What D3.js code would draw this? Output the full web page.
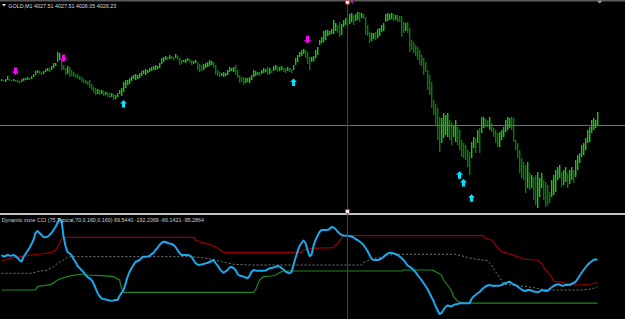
<!DOCTYPE html>
<html>
<head>
<meta charset="utf-8">
<script src="https://cdn.jsdelivr.net/npm/d3@7"></script>
<style>
  html, body { margin: 0; padding: 0; background: #000; }
  svg { display: block; }
</style>
</head>
<body>
<script>
/* GOLD M1 bars + Dynamic zone CCI sub window */

// chart title / indicator label
const symbolLabel = "GOLD,M1";
const ohlcLabel = ["4027.51", "4027.51", "4026.05", "4026.23"];
const cciLabel = "Dynamic zone CCI (75,Typical,70,0.160,0.160)";
const cciLast = ["69.5440", "-192.2369", "-66.1421", "-95.2864"];

// price bars (one per minute), highs and lows
const barHigh = [
  4030.8,4030.7,4030.8,4031.1,4030.8,4030.7,4030.8,4030.7,4030.7,4030.6,
  4030.8,4030.9,4030.9,4031.0,4030.9,4031.1,4031.3,4031.6,4031.7,4031.6,
  4031.5,4031.6,4031.8,4031.9,4031.9,4032.1,4032.4,4032.4,4033.5,4033.4,
  4032.7,4032.2,4031.9,4032.1,4032.0,4031.7,4031.5,4031.3,4031.3,4031.1,
  4031.0,4030.8,4030.7,4030.6,4030.7,4030.3,4030.0,4029.9,4029.8,4029.7,
  4029.7,4029.6,4029.5,4029.5,4029.4,4029.4,4029.3,4029.2,4029.4,4029.7,
  4029.9,4030.5,4030.7,4030.7,4030.9,4031.1,4031.2,4031.3,4031.2,4031.4,
  4031.6,4031.7,4031.8,4031.7,4031.9,4032.0,4032.1,4032.2,4032.1,4032.4,
  4032.9,4033.0,4033.1,4033.0,4033.2,4033.1,4033.0,4033.3,4033.1,4032.9,
  4032.7,4032.7,4032.8,4032.9,4032.8,4032.7,4032.6,4032.7,4032.5,4032.3,
  4032.2,4032.3,4032.4,4032.5,4032.7,4032.6,4032.5,4032.2,4031.7,4031.5,
  4031.4,4031.5,4031.4,4031.7,4032.0,4031.9,4032.0,4032.2,4031.7,4031.2,
  4031.0,4031.0,4030.9,4030.9,4031.0,4031.2,4031.7,4031.6,4031.5,4031.5,
  4031.7,4031.9,4031.8,4032.0,4031.9,4031.7,4032.1,4032.2,4032.1,4032.0,
  4032.1,4031.9,4031.9,4032.0,4031.9,4031.8,4032.2,4032.9,4033.2,4033.5,
  4033.7,4033.8,4033.7,4033.5,4033.0,4033.0,4033.1,4033.7,4034.0,4034.7,
  4035.0,4035.6,4035.7,4035.7,4035.6,4035.8,4036.7,4036.4,4036.2,4036.5,
  4036.3,4036.7,4036.9,4036.8,4037.3,4037.4,4037.2,4037.3,4037.5,4037.5,
  4037.4,4037.3,4037.0,4036.2,4035.5,4035.4,4035.4,4035.5,4035.8,4035.9,
  4036.2,4036.4,4037.3,4037.4,4037.3,4037.4,4037.3,4037.2,4037.2,4037.1,
  4037.1,4036.5,4036.4,4036.5,4035.9,4034.7,4034.5,4034.2,4034.0,4033.7,
  4033.2,4032.9,4032.5,4031.7,4031.2,4030.5,4028.7,4028.3,4027.9,4027.0,
  4026.9,4027.4,4027.2,4027.4,4026.7,4026.5,4026.2,4026.7,4026.0,4025.7,
  4024.7,4024.4,4024.2,4023.7,4023.5,4024.5,4025.0,4024.9,4025.7,4025.9,
  4027.0,4027.0,4026.8,4026.7,4027.0,4026.4,4025.9,4025.7,4025.4,4025.5,
  4025.7,4026.0,4026.7,4027.0,4026.9,4027.0,4026.9,4024.7,4024.4,4023.7,
  4022.9,4022.5,4022.2,4022.5,4021.4,4021.2,4021.0,4021.2,4021.5,4020.9,
  4021.4,4020.7,4020.5,4020.2,4019.5,4020.7,4021.2,4021.7,4022.0,4022.2,
  4021.5,4021.7,4022.0,4021.4,4021.7,4022.0,4021.7,4022.7,4023.2,4023.4,
  4024.2,4024.4,4024.9,4025.7,4026.0,4026.7,4026.9,4026.7,4027.51
];
const barLow = [
  4030.6,4030.6,4030.5,4030.7,4030.6,4030.6,4030.6,4030.5,4030.4,4030.4,
  4030.5,4030.6,4030.7,4030.7,4030.7,4030.8,4031.0,4031.2,4031.4,4031.3,
  4031.2,4031.3,4031.5,4031.6,4031.5,4031.7,4031.9,4032.1,4032.5,4032.7,
  4031.7,4031.7,4031.2,4031.3,4031.0,4031.1,4031.0,4030.9,4030.8,4030.7,
  4030.5,4030.4,4030.3,4030.2,4029.9,4029.7,4029.4,4029.2,4029.3,4029.2,
  4029.3,4029.1,4029.2,4029.0,4028.9,4029.0,4028.7,4028.8,4029.0,4029.3,
  4029.1,4029.5,4029.9,4030.2,4030.3,4030.6,4030.8,4030.7,4030.8,4030.9,
  4031.1,4031.3,4031.2,4031.4,4031.5,4031.6,4031.7,4031.7,4031.8,4031.9,
  4032.3,4032.5,4032.7,4032.7,4032.8,4032.8,4032.7,4032.9,4032.7,4032.2,
  4032.3,4032.5,4032.4,4032.6,4032.4,4032.2,4032.3,4032.4,4031.7,4031.5,
  4031.6,4031.7,4031.9,4032.0,4032.1,4032.2,4031.9,4031.2,4031.1,4031.0,
  4031.1,4031.0,4031.1,4031.2,4031.5,4031.6,4031.5,4031.2,4030.9,4030.4,
  4030.5,4030.2,4030.4,4030.5,4030.4,4030.7,4031.0,4031.1,4031.2,4031.1,
  4031.3,4031.4,4031.5,4031.2,4031.3,4031.4,4031.6,4031.7,4031.5,4031.6,
  4031.7,4031.5,4031.4,4031.6,4031.5,4031.4,4031.7,4032.2,4032.5,4033.0,
  4033.1,4033.3,4032.9,4032.3,4031.7,4032.5,4032.6,4032.9,4033.2,4034.2,
  4034.4,4034.5,4034.7,4035.1,4035.2,4035.3,4035.3,4035.6,4035.4,4035.0,
  4035.2,4036.0,4036.2,4036.1,4036.3,4036.5,4036.2,4036.6,4036.7,4036.5,
  4036.9,4036.8,4035.2,4035.1,4034.4,4034.6,4034.8,4034.7,4034.9,4035.1,
  4035.5,4035.6,4036.5,4036.6,4036.7,4036.8,4036.6,4036.7,4036.5,4036.5,
  4035.0,4035.4,4035.6,4035.4,4033.5,4033.7,4033.4,4033.1,4032.7,4032.2,
  4032.1,4031.2,4031.5,4029.7,4029.2,4027.9,4027.2,4026.2,4024.7,4023.5,
  4024.4,4024.9,4025.2,4025.0,4024.7,4024.2,4025.0,4024.5,4024.2,4023.7,
  4023.0,4022.9,4022.7,4022.0,4021.2,4022.9,4023.9,4023.4,4024.4,4023.4,
  4025.4,4025.9,4026.0,4026.0,4025.7,4025.5,4025.0,4024.4,4024.0,4024.0,
  4024.7,4025.0,4025.5,4025.7,4025.9,4025.7,4024.5,4023.7,4022.9,4021.4,
  4020.9,4020.7,4019.4,4019.9,4019.7,4019.9,4018.7,4018.2,4017.9,4019.0,
  4019.9,4018.7,4018.0,4018.2,4018.4,4019.0,4019.2,4019.5,4020.7,4020.9,
  4020.0,4020.2,4020.5,4019.9,4020.3,4020.7,4020.4,4021.0,4021.7,4022.4,
  4023.0,4023.2,4023.7,4024.4,4024.5,4025.4,4025.7,4025.9,4026.05
];

// signal arrows (bar index, price at arrow centre)
const sellBars = [7, 31, 153];
const sellPrices = [4031.57, 4032.87, 4034.73];
const buyBars = [61, 146, 229, 231, 235];
const buyPrices = [4028.33, 4030.48, 4021.20, 4020.42, 4018.90];

// crosshair
const crossBar = 173;
const crossPrice = 4026.2;

// CCI, one value per bar
const cci = [
  96,86,90,96,93,92,96,90,78,66,
  56,84,102,120,138,162,186,228,240,228,
  216,204,202,206,216,228,246,264,288,312,
  300,210,150,114,105,96,72,54,30,18,
  6,-6,-24,-36,-44,-54,-74,-102,-132,-150,
  -164,-168,-171,-174,-177,-178,-177,-174,-174,-150,
  -132,-114,-78,-36,-6,16,36,54,60,66,
  78,86,86,87,90,102,108,126,138,156,
  168,176,174,168,165,162,156,144,126,108,
  96,96,96,96,93,86,66,48,39,36,
  39,42,46,48,54,60,66,48,33,15,
  0,-10,-3,6,21,24,18,6,-18,-27,
  -30,-34,-39,-44,-30,-6,6,3,2,2,
  2,2,3,9,16,18,21,24,30,27,
  18,9,-4,-9,-14,-6,36,78,116,150,
  168,183,168,126,90,96,150,186,210,234,
  246,246,246,246,252,264,261,252,237,225,
  216,213,212,212,210,207,201,192,186,177,
  168,156,138,120,96,75,66,66,66,69,
  75,84,96,105,108,110,105,102,96,87,
  78,66,51,33,26,18,6,-6,-24,-39,
  -54,-72,-90,-108,-132,-156,-180,-210,-234,-258,
  -252,-234,-216,-207,-210,-213,-204,-200,-198,-194,
  -194,-194,-194,-194,-194,-168,-153,-144,-134,-126,
  -114,-102,-93,-87,-84,-87,-90,-88,-88,-88,
  -84,-78,-72,-69,-64,-72,-81,-84,-93,-102,
  -111,-117,-120,-114,-114,-117,-123,-124,-128,-123,
  -114,-117,-120,-120,-108,-99,-90,-84,-80,-81,
  -88,-87,-84,-84,-84,-78,-72,-66,-48,-30,
  -12,6,21,36,48,57,66,69,69.544
];

// zone levels, given where they change (bar index -> value)
const upperBars = [0,3,6,10,15,20,25,27,29,30,31,96,97,100,104,107,111,150,151,155,166,168,170,171,241,242,245,247,250,252,255,258,261,266,268,270,272,275,276,280,285,290,295,298];
const upperValues = [60,72,80,86,96,102,112,126,166,196,202,202,186,172,160,146,112,112,126,136,140,166,196,212,212,196,186,156,116,110,100,86,72,66,66,46,6,-34,-60,-68,-80,-84,-78,-66.1421];

const lowerBars = [0,17,18,21,25,28,31,35,40,43,50,56,59,60,61,126,127,129,131,135,137,140,141,200,201,215,216,218,220,221,223,225,226,228,230,298];
const lowerValues = [-114,-114,-94,-88,-80,-54,-40,-28,-18,-24,-28,-34,-54,-104,-128,-128,-114,-54,-34,-30,-24,-4,0,0,6,6,2,-10,-24,-54,-84,-120,-154,-180,-192.2,-192.2369];

const midBars = [0,15,18,23,26,28,31,33,35,91,95,100,105,110,116,125,180,181,185,188,193,196,227,230,233,238,243,245,247,250,251,255,260,265,270,275,290,295,298];
const midValues = [-14,-14,-4,6,26,46,66,82,86,86,86,80,72,56,40,36,36,50,72,80,92,100,100,92,80,70,62,36,-4,-54,-78,-84,-90,-98,-108,-114,-114,-108,-95.2864];


/**************************** drawing ****************************/

const width = 625, height = 319;

const svg = d3.select("body").append("svg")
  .attr("width", width)
  .attr("height", height);

svg.append("rect").attr("width", width).attr("height", height).attr("fill", "#000");

// scales
const x = d3.scaleLinear().domain([0, 298]).range([1, 597]);
const yPrice = d3.scaleLinear().domain([4017.7, 4038.7]).range([210, 0]);
const yCci = d3.scaleLinear().domain([-288, 336]).range([319, 215]);

// top frame line
svg.append("rect").attr("x", 0).attr("y", 0).attr("width", width).attr("height", 1.5).attr("fill", "#5a5a5a");

// bars: bright when the bar moved up, darker when it moved down
const mid = barHigh.map((h, i) => (h + barLow[i]) / 2);
const barColor = mid.map((m, i) => (i == 0 || m >= mid[i - 1]) ? "rgb(24,196,24)" : "rgb(10,122,10)");

const barG = svg.append("g").style("shape-rendering", "crispEdges");

// open/close tick side of the bar, drawn faint
barG.selectAll("line.tick")
  .data(barHigh)
  .join("line")
  .attr("class", "tick")
  .attr("x1", (d, i) => Math.round(x(i)) + 1.5)
  .attr("x2", (d, i) => Math.round(x(i)) + 1.5)
  .attr("y1", d => Math.round(yPrice(d)))
  .attr("y2", (d, i) => Math.max(Math.round(yPrice(d)) + 1, Math.round(yPrice(barLow[i]))))
  .style("stroke", (d, i) => barColor[i])
  .style("stroke-opacity", 0.4)
  .style("stroke-width", 1);

// main stems
barG.selectAll("line.stem")
  .data(barHigh)
  .join("line")
  .attr("class", "stem")
  .attr("x1", (d, i) => Math.round(x(i)) + 0.5)
  .attr("x2", (d, i) => Math.round(x(i)) + 0.5)
  .attr("y1", d => Math.round(yPrice(d)))
  .attr("y2", (d, i) => Math.max(Math.round(yPrice(d)) + 1, Math.round(yPrice(barLow[i]))))
  .style("stroke", (d, i) => barColor[i])
  .style("stroke-width", 1);

// arrows
function arrowPath(ax, ay, up) {
  const s = up ? 1 : -1;
  const top = ay - 3.8 * s, neck = ay - 0.3 * s, bottom = ay + 3.8 * s;
  return `M${ax},${top} L${ax + 3.5},${neck} L${ax + 1.5},${neck} L${ax + 1.5},${bottom}` +
         ` L${ax - 1.5},${bottom} L${ax - 1.5},${neck} L${ax - 3.5},${neck} Z`;
}

svg.append("g").selectAll("path")
  .data(sellBars)
  .join("path")
  .attr("d", (d, i) => arrowPath(x(d) + 0.5, yPrice(sellPrices[i]), false))
  .attr("fill", "#ff00ff");

svg.append("g").selectAll("path")
  .data(buyBars)
  .join("path")
  .attr("d", (d, i) => arrowPath(x(d) + 0.5, yPrice(buyPrices[i]), true))
  .attr("fill", "#00e4ff");

// sub window separator
svg.append("rect").attr("x", 0).attr("y", 213).attr("width", width).attr("height", 2).attr("fill", "#c4c4c4");

// indicator lines
const zone = (bars, vals) => d3.line()
  .x((d, i) => x(bars[i]) + 0.5)
  .y(d => yCci(d))(vals);

svg.append("path")
  .attr("d", zone(midBars, midValues))
  .attr("fill", "none")
  .attr("stroke", "#7a7a7a")
  .attr("stroke-width", 1)
  .attr("stroke-dasharray", "2,2");

svg.append("path")
  .attr("d", zone(upperBars, upperValues))
  .attr("fill", "none")
  .attr("stroke", "#980000")
  .attr("stroke-width", 1.2);

svg.append("path")
  .attr("d", zone(lowerBars, lowerValues))
  .attr("fill", "none")
  .attr("stroke", "#1f861f")
  .attr("stroke-width", 1.2);

svg.append("path")
  .attr("d", d3.line().x((d, i) => x(i) + 0.5).y(d => yCci(d))(cci))
  .attr("fill", "none")
  .attr("stroke", "#1ca8ee")
  .attr("stroke-width", 2)
  .attr("stroke-linejoin", "round");

// crosshair
const crossX = Math.round(x(crossBar)) + 0.5;
const crossY = Math.round(yPrice(crossPrice)) + 0.5;
svg.append("line")
  .attr("x1", 0).attr("x2", width)
  .attr("y1", crossY).attr("y2", crossY)
  .attr("stroke", "#707070").attr("stroke-width", 1);
svg.append("line")
  .attr("x1", crossX).attr("x2", crossX)
  .attr("y1", 0).attr("y2", height)
  .attr("stroke", "#a81616").attr("stroke-width", 1);

// small markers of the vertical line
[2.3, 211.5].forEach(my => {
  svg.append("rect")
    .attr("x", crossX - 1.8).attr("y", my - 1.8).attr("width", 3.6).attr("height", 3.6)
    .attr("fill", "#fff").attr("stroke", "#e03030").attr("stroke-width", 0.8);
});
svg.append("rect").attr("x", 351).attr("y", 0.8).attr("width", 2).attr("height", 2).attr("fill", "#ff00ff");

// chart shift triangle (top right)
svg.append("path").attr("d", "M597,0.8 L602.5,0.8 L599.75,3.6 Z").attr("fill", "#8ea4b4");

// title
svg.append("path").attr("d", "M2,4 L6,4 L4,6.6 Z").attr("fill", "#e8e8e8");
svg.append("text")
  .attr("x", 8.3).attr("y", 7.6)
  .attr("font-family", "'Liberation Sans', Arial, sans-serif")
  .attr("font-size", 5.6)
  .attr("fill", "#d8d8d8")
  .attr("textLength", 108)
  .attr("lengthAdjust", "spacingAndGlyphs")
  .text(`${symbolLabel} ${ohlcLabel.join(" ")}`);

svg.append("text")
  .attr("x", 1.7).attr("y", 221.8)
  .attr("font-family", "'Liberation Sans', Arial, sans-serif")
  .attr("font-size", 5.6)
  .attr("fill", "#d0d0d0")
  .attr("textLength", 202.3)
  .attr("lengthAdjust", "spacingAndGlyphs")
  .text(`${cciLabel} ${cciLast.join(" ")}`);
</script>
</body>
</html>
